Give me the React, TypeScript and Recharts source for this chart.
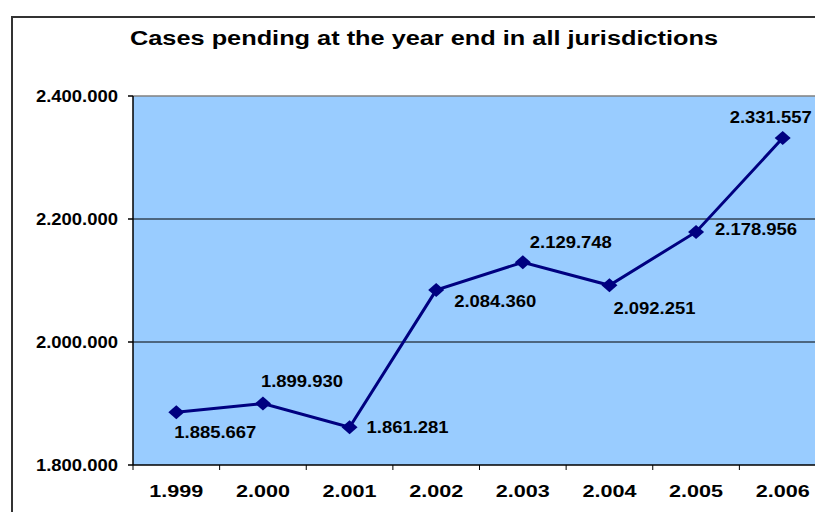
import { LineChart, Line, XAxis, YAxis, CartesianGrid, ReferenceLine, LabelList } from 'recharts'

const years = ['1.999', '2.000', '2.001', '2.002', '2.003', '2.004', '2.005', '2.006']
const pending = [1885667, 1899930, 1861281, 2084360, 2129748, 2092251, 2178956, 2331557]
const yTicks = [1800000, 2000000, 2200000, 2400000]

// manual label placement (Excel style), relative to each marker
const labelOffsets = [
  [-2, 20], [-2, -22], [17, 0], [18, 11], [7, -20], [4, 23], [19, -2], [-53, -21],
]

const data = years.map((y, i) => ({ year: y, cases: pending[i] }))

const fmt = (v: number) => String(Math.round(v)).replace(/\B(?=(\d{3})+(?!\d))/g, '.')

const font = '"Liberation Sans", Arial, sans-serif'

function Diamond({ cx, cy }: any) {
  if (cx == null || cy == null) return null
  return <path d={`M${cx - 8},${cy} L${cx},${cy - 7} L${cx + 8},${cy} L${cx},${cy + 7} Z`} fill="#000080" />
}

function YTick({ x, y, payload }: any) {
  return (
    <text x={x - 82} y={y} dominantBaseline="central" textLength={82} lengthAdjust="spacingAndGlyphs"
      fontFamily={font} fontWeight="bold" fontSize={16} fill="#000">
      {fmt(payload.value)}
    </text>
  )
}

function XTick({ x, y, payload }: any) {
  const off = payload.offset || 43.3
  return (
    <g>
      <line x1={x - off} y1={y} x2={x - off} y2={y + 5} stroke="#000" />
      <text x={x - 27} y={y + 26} dominantBaseline="central" textLength={54} lengthAdjust="spacingAndGlyphs"
        fontFamily={font} fontWeight="bold" fontSize={17} fill="#000">
        {payload.value}
      </text>
    </g>
  )
}

function PointLabel({ x, y, value, index }: any) {
  const [dx, dy] = labelOffsets[index] ?? [0, -20]
  return (
    <text x={x + dx} y={y + dy} dominantBaseline="central" textLength={82} lengthAdjust="spacingAndGlyphs"
      fontFamily={font} fontWeight="bold" fontSize={16} fill="#000">
      {fmt(value)}
    </text>
  )
}

export default function App() {
  return (
    <div style={{ position: 'absolute', left: 0, top: 0, width: 815, height: 512, overflow: 'hidden', background: '#fff' }}>
      <div style={{ position: 'absolute', left: 11, top: 16, width: 900, height: 600, border: '2px solid #333' }} />
      <svg style={{ position: 'absolute', left: 0, top: 0 }} width={815} height={80}>
        <text x={130} y={38} dominantBaseline="central" textLength={588} lengthAdjust="spacingAndGlyphs"
          fontFamily={font} fontWeight="bold" fontSize={20} fill="#000">
          Cases pending at the year end in all jurisdictions
        </text>
      </svg>
      <div style={{ position: 'absolute', left: 0, top: 0 }}>
        <LineChart width={830} height={512} data={data} margin={{ top: 96, right: 4, bottom: 0, left: 0 }}>
          <CartesianGrid fill="#99CCFF" vertical={false} stroke="#000" horizontalValues={[2000000, 2200000]} />
          <ReferenceLine y={2400000} stroke="#808080" strokeWidth={1.5} />
          <XAxis dataKey="year" scale="band" height={47} tickSize={0} tickMargin={0} stroke="#000" strokeWidth={1.5}
            tick={<XTick />} interval={0} />
          <YAxis width={133} domain={[1800000, 2400000]} ticks={yTicks} tickSize={5} tickMargin={10}
            stroke="#000" strokeWidth={1.5} tick={<YTick />} />
          <Line dataKey="cases" stroke="#000080" strokeWidth={3} dot={<Diamond />} activeDot={false}
            isAnimationActive={false}>
            <LabelList dataKey="cases" content={<PointLabel />} />
          </Line>
        </LineChart>
      </div>
    </div>
  )
}
